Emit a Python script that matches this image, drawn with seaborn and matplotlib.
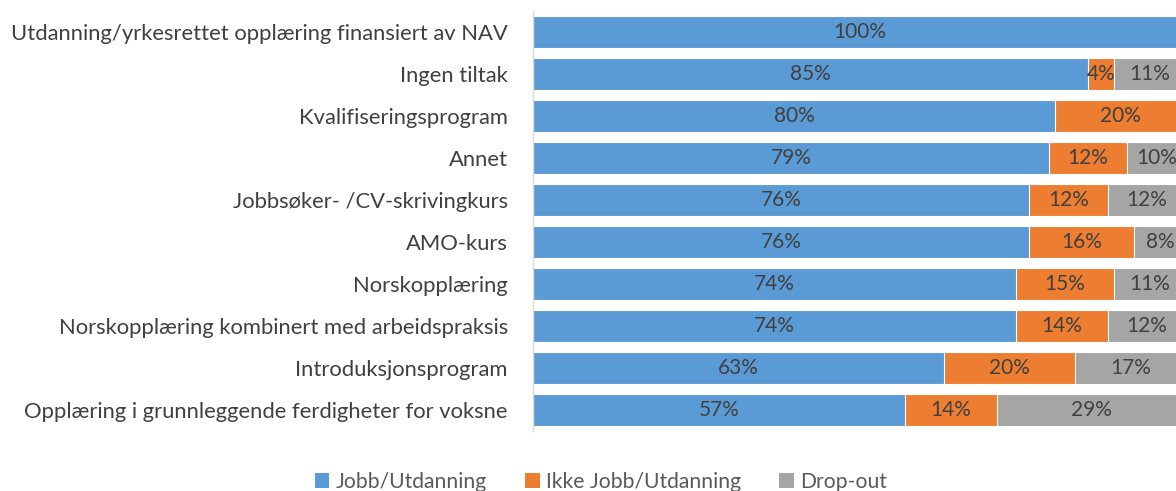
import numpy as np
import pandas as pd
import seaborn as sns
import matplotlib.pyplot as plt
from matplotlib.patches import Patch

# Data (percent of each group)
categories = [
    "Utdanning/yrkesrettet opplæring finansiert av NAV",
    "Ingen tiltak",
    "Kvalifiseringsprogram",
    "Annet",
    "Jobbsøker- /CV-skrivingkurs",
    "AMO-kurs",
    "Norskopplæring",
    "Norskopplæring kombinert med arbeidspraksis",
    "Introduksjonsprogram",
    "Opplæring i grunnleggende ferdigheter for voksne",
]
jobb = [100, 85, 80, 79, 76, 76, 74, 74, 63, 57]
ikke_jobb = [0, 4, 20, 12, 12, 16, 15, 14, 20, 14]
drop_out = [0, 11, 0, 10, 12, 8, 11, 12, 17, 29]
series_names = ["Jobb/Utdanning", "Ikke Jobb/Utdanning", "Drop-out"]
colors = ["#5B9BD5", "#ED7D31", "#A5A5A5"]

sns.set_theme(style="white")
plt.rcParams["font.family"] = ["Lato", "DejaVu Sans"]

df = pd.DataFrame({"kategori": categories, "jobb": jobb,
                   "ikke": ikke_jobb, "drop": drop_out})
df["c1"] = df["jobb"]
df["c2"] = df["jobb"] + df["ikke"]
df["c3"] = df["c2"] + df["drop"]

fig = plt.figure(figsize=(11.76, 4.91), dpi=100)
# the right end of the plot area is cut off in the reference
ax = fig.add_axes([0.4532, 0.1222, 0.5553, 0.8554])

# stacked bars drawn as overlapping cumulative bars, widest first
for col, color in zip(["c3", "c2", "c1"], colors[::-1]):
    sns.barplot(data=df, x=col, y="kategori", color=color, width=0.76,
                edgecolor="white", linewidth=0.8, saturation=1, ax=ax)

# segment labels (rounded shares can add up to 101, so clamp at 100)
starts = [np.zeros(len(df)), df["c1"].values, df["c2"].values]
for vals, start in zip([jobb, ikke_jobb, drop_out], starts):
    for i, (v, s) in enumerate(zip(vals, start)):
        if v > 0:
            end = min(s + v, 100)
            ax.text((s + end) / 2, i, f"{v}%", ha="center", va="center",
                    fontsize=15, color="#404040")

ax.set_xlim(0, 100)
ax.set_xlabel("")
ax.set_ylabel("")
ax.set_xticks([])
ax.tick_params(axis="y", length=0, pad=18, labelsize=15.8, labelcolor="#404040")
for side in ["top", "right", "bottom"]:
    ax.spines[side].set_visible(False)
ax.spines["left"].set_color("#D9D9D9")
ax.spines["left"].set_linewidth(1)

handles = [Patch(facecolor=c, edgecolor="none") for c in colors]
fig.legend(handles, series_names, loc="lower center", bbox_to_anchor=(0.511, -0.04),
           ncol=3, frameon=False, fontsize=15.2, labelcolor="#595959",
           handlelength=0.7, handleheight=0.7, handletextpad=0.3, columnspacing=1.8)

fig.savefig("out.png", dpi=100)
